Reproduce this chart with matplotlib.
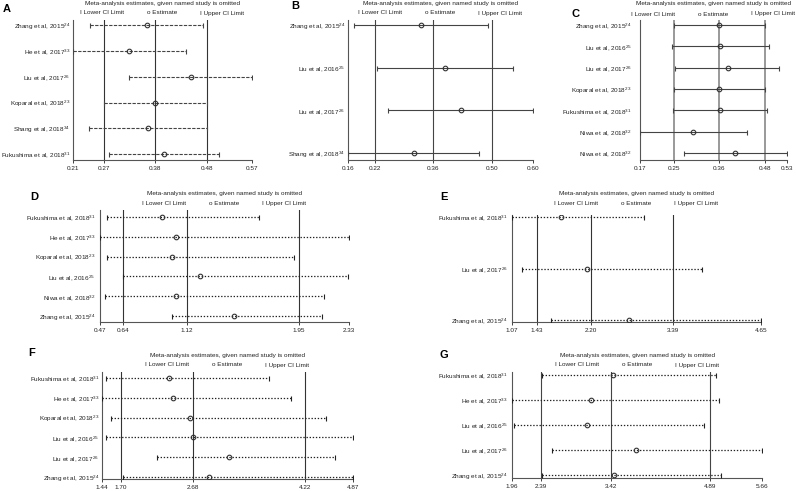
import matplotlib
matplotlib.use('Agg')
import matplotlib.pyplot as plt

plt.rcParams['font.family'] = ['Liberation Sans', 'DejaVu Sans']
plt.rcParams['mathtext.default'] = 'regular'

# ---- data ----
A_studies = ['Zhang et al, 2015$^{24}$', 'He et al, 2017$^{33}$', 'Liu et al, 2017$^{26}$',
             'Koparal et al, 2018$^{23}$', 'Shang et al, 2018$^{34}$', 'Fukushima et al, 2018$^{31}$']
A_est = [0.358, 0.323, 0.447, 0.375, 0.361, 0.393]
A_lo = [0.244, 0.210, 0.323, 0.272, 0.242, 0.283]
A_hi = [0.471, 0.437, 0.570, 0.479, 0.480, 0.504]
A_pooled = [0.272, 0.375, 0.479]
A_ticks = [0.21, 0.272, 0.375, 0.479, 0.57]
A_ticklabels = ['0.21', '0.27', '0.38', '0.48', '0.57']

B_studies = ['Zhang et al, 2015$^{24}$', 'Liu et al, 2016$^{25}$', 'Liu et al, 2017$^{26}$',
             'Shang et al, 2018$^{34}$']
B_est = [0.334, 0.391, 0.429, 0.317]
B_lo = [0.174, 0.229, 0.255, 0.160]
B_hi = [0.493, 0.553, 0.600, 0.472]
B_pooled = [0.224, 0.362, 0.502]
B_ticks = [0.16, 0.224, 0.362, 0.502, 0.60]
B_ticklabels = ['0.16', '0.22', '0.36', '0.50', '0.60']

C_studies = ['Zhang et al, 2015$^{24}$', 'Liu et al, 2016$^{25}$', 'Liu et al, 2017$^{26}$',
             'Koparal et al, 2018$^{23}$', 'Fukushima et al, 2018$^{31}$', 'Niwa et al, 2018$^{32}$',
             'Niwa et al, 2018$^{32}$']
C_est = [0.364, 0.366, 0.385, 0.364, 0.366, 0.300, 0.403]
C_lo = [0.253, 0.248, 0.256, 0.253, 0.251, 0.170, 0.278]
C_hi = [0.476, 0.486, 0.511, 0.476, 0.481, 0.432, 0.530]
C_pooled = [0.253, 0.364, 0.476]
C_ticks = [0.17, 0.253, 0.364, 0.476, 0.53]
C_ticklabels = ['0.17', '0.25', '0.36', '0.48', '0.53']

D_studies = ['Fukushima et al, 2018$^{31}$', 'He et al, 2017$^{33}$', 'Koparal et al, 2018$^{23}$',
             'Liu et al, 2016$^{25}$', 'Niwa et al, 2018$^{32}$', 'Zhang et al, 2015$^{24}$']
D_est = [0.93, 1.04, 1.01, 1.22, 1.04, 1.47]
D_lo = [0.52, 0.47, 0.52, 0.64, 0.51, 1.01]
D_hi = [1.66, 2.33, 1.92, 2.32, 2.14, 2.13]
D_pooled = [0.64, 1.12, 1.955]
D_ticks = [0.47, 0.64, 1.12, 1.955, 2.33]
D_ticklabels = ['0.47', '0.64', '1.12', '1.95', '2.33']

E_studies = ['Fukushima et al, 2018$^{31}$', 'Liu et al, 2017$^{26}$', 'Zhang et al, 2015$^{24}$']
E_est = [1.77, 2.15, 2.75]
E_lo = [1.07, 1.21, 1.63]
E_hi = [2.97, 3.80, 4.65]
E_pooled = [1.43, 2.20, 3.39]
E_ticks = [1.07, 1.43, 2.20, 3.39, 4.65]
E_ticklabels = ['1.07', '1.43', '2.20', '3.39', '4.65']

F_studies = ['Fukushima et al, 2018$^{31}$', 'He et al, 2017$^{33}$', 'Koparal et al, 2018$^{23}$',
             'Liu et al, 2016$^{25}$', 'Liu et al, 2017$^{26}$', 'Zhang et al, 2015$^{24}$']
F_est = [2.35, 2.41, 2.64, 2.68, 3.18, 2.90]
F_lo = [1.49, 1.44, 1.56, 1.49, 2.19, 1.73]
F_hi = [3.72, 4.02, 4.50, 4.87, 4.63, 4.87]
F_pooled = [1.70, 2.68, 4.22]
F_ticks = [1.44, 1.70, 2.68, 4.22, 4.87]
F_ticklabels = ['1.44', '1.70', '2.68', '4.22', '4.87']

G_studies = ['Fukushima et al, 2018$^{31}$', 'He et al, 2017$^{33}$', 'Liu et al, 2016$^{25}$',
             'Liu et al, 2017$^{26}$', 'Zhang et al, 2015$^{24}$']
G_est = [3.45, 3.13, 3.07, 3.80, 3.47]
G_lo = [2.40, 1.96, 1.99, 2.55, 2.40]
G_hi = [4.98, 5.02, 4.80, 5.66, 5.05]
G_pooled = [2.39, 3.42, 4.89]
G_ticks = [1.96, 2.39, 3.42, 4.89, 5.66]
G_ticklabels = ['1.96', '2.39', '3.42', '4.89', '5.66']

TITLE = 'Meta-analysis estimates, given named study is omitted'
LEGEND = ['I Lower CI Limit', 'o Estimate', 'I Upper CI Limit']

W, H = 796, 491
fig = plt.figure(figsize=(7.96, 4.91), dpi=100)


def fx(x):
    return x / W


def fy(y):
    return 1 - y / H


def panel(letter, box, letter_xy, title_y, legend_y, studies, est, lo, hi, pooled,
          ticks, ticklabels, pads, err_style, vcolor, vlw, ylab_pad):
    l, t, r, b = box
    ax = fig.add_axes([fx(l), fy(b), (r - l) / W, (b - t) / H])
    n = len(studies)
    y = list(range(n))
    for p in pooled:
        ax.axvline(p, color=vcolor, lw=vlw, zorder=1)
    xerr = [[e - a for e, a in zip(est, lo)], [c - e for e, c in zip(est, hi)]]
    ecol, elw = ('#222222', 0.9) if err_style == dot else ('#444444', 0.8)
    eb = ax.errorbar(est, y, xerr=xerr, fmt='o', ms=3.3, mfc='none', mec='#333333', mew=0.8,
                     ecolor=ecol, elinewidth=elw, capsize=1.8, capthick=0.7, zorder=3)
    eb[2][0].set_linestyle(err_style)
    ax.set_xlim(ticks[0], ticks[-1])
    ax.set_ylim(n - 1 + pads[1], -pads[0])
    ax.set_yticks(y)
    ax.set_yticklabels(studies)
    ax.set_xticks(ticks)
    ax.set_xticklabels(ticklabels)
    for s in ['top', 'right']:
        ax.spines[s].set_visible(False)
    for s in ['left', 'bottom']:
        ax.spines[s].set_color('#555555')
        ax.spines[s].set_linewidth(0.8)
    ax.tick_params(axis='y', length=0, pad=ylab_pad, labelsize=4.6, colors='#222222')
    ax.tick_params(axis='x', length=2.5, width=0.6, pad=1.5, labelsize=4.6, colors='#222222')
    cx = (l + r) / 2
    fig.text(fx(cx), fy(title_y), TITLE, ha='center', va='center', fontsize=4.6, color='#222222')
    for k, lab in enumerate(LEGEND):
        fig.text(fx(cx + (k - 1) * 60), fy(legend_y), lab, ha='center', va='center',
                 fontsize=4.6, color='#222222')
    fig.text(fx(letter_xy[0]), fy(letter_xy[1]), letter, ha='left', va='center',
             fontsize=8, fontweight='bold')
    return ax


dash = (0, (3, 1.2))
dot = (0, (1.1, 1.4))

panel('A', (73, 20, 252, 160), (3, 9), 4, 13, A_studies, A_est, A_lo, A_hi, A_pooled,
      A_ticks, A_ticklabels, (0.2, 0.23), dash, '#333333', 0.8, 2)
panel('B', (348, 20, 533, 160), (291, 6), 4, 13, B_studies, B_est, B_lo, B_hi, B_pooled,
      B_ticks, B_ticklabels, (0.12, 0.16), 'solid', '#444444', 0.8, 2)
panel('C', (640, 20, 787, 160), (572, 14), 4, 14, C_studies, C_est, C_lo, C_hi, C_pooled,
      C_ticks, C_ticklabels, (0.23, 0.33), 'solid', '#888888', 1.2, 6)
panel('D', (100, 210, 349, 322), (30, 197), 194, 204, D_studies, D_est, D_lo, D_hi, D_pooled,
      D_ticks, D_ticklabels, (0.35, 0.3), dot, '#333333', 0.8, 3.5)
panel('E', (512, 215, 761, 322), (440, 197), 193, 204, E_studies, E_est, E_lo, E_hi, E_pooled,
      E_ticks, E_ticklabels, (0.04, 0.04), dot, '#333333', 0.8, 3)
panel('F', (102, 372, 353, 479), (28, 353), 355, 365, F_studies, F_est, F_lo, F_hi, F_pooled,
      F_ticks, F_ticklabels, (0.3, 0.1), dot, '#333333', 0.8, 2)
panel('G', (512, 372, 762, 478), (440, 355), 355, 365, G_studies, G_est, G_lo, G_hi, G_pooled,
      G_ticks, G_ticklabels, (0.12, 0.12), dot, '#444444', 0.8, 3)

fig.savefig('out.png', dpi=100)
